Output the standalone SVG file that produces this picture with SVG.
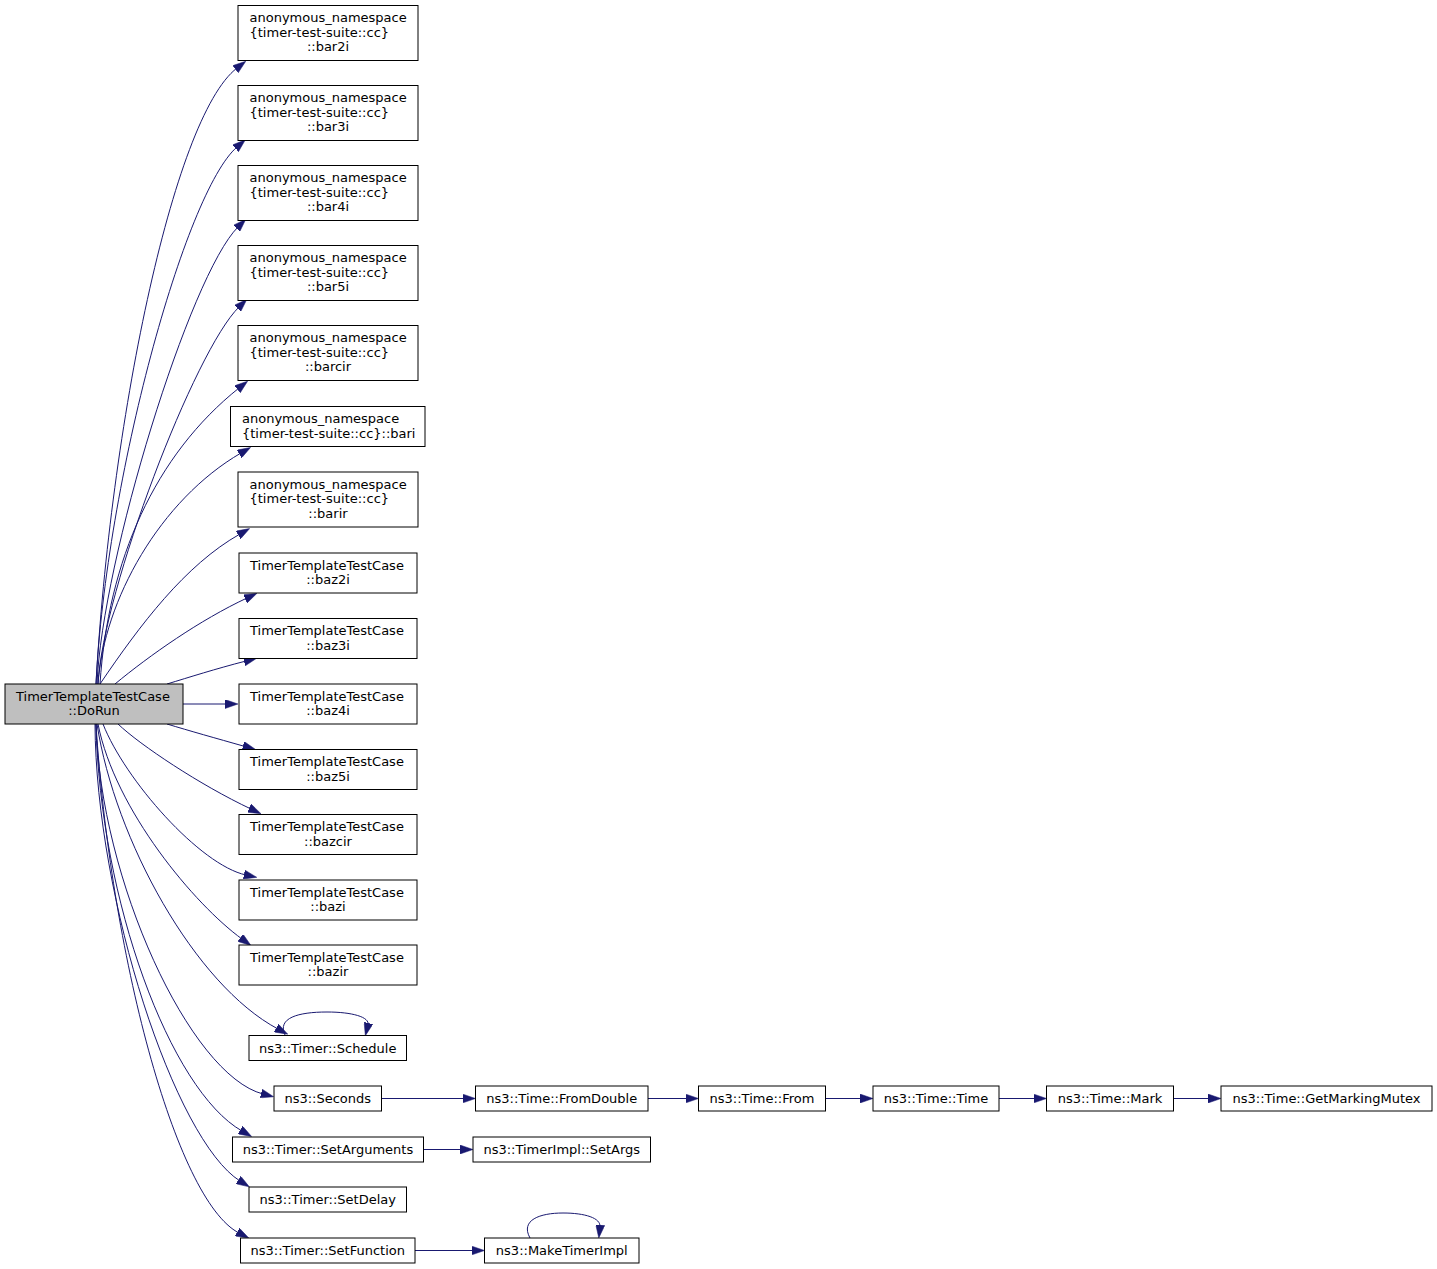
<svg xmlns="http://www.w3.org/2000/svg" width="1437" height="1269" viewBox="0 0 1437 1269">
<style>
.node rect{fill:#ffffff;stroke:#000000;stroke-width:1}
.node.main rect{fill:#bfbfbf}
.edges path{fill:none;stroke:#191970;stroke-width:1}
text{font-family:"DejaVu Sans","Liberation Sans",sans-serif;font-size:13px;fill:#000000}
.m{text-anchor:middle}
</style>
<defs>
<marker id="ah" viewBox="0 0 13 9" refX="2" refY="4.5" markerWidth="13" markerHeight="9" markerUnits="userSpaceOnUse" orient="auto">
<path d="M0,0 L13,4.5 L0,9 Z" fill="#191970" stroke="#191970" stroke-width="0.5"/>
</marker>
</defs>
<rect width="1437" height="1269" fill="#ffffff"/>
<g class="edges">
<path d="M96,684 C110,430 172,118 237,68" marker-end="url(#ah)"/>
<path d="M96,684 C106,480 185,192 237,147" marker-end="url(#ah)"/>
<path d="M97,684 C102,560 190,275 238,227" marker-end="url(#ah)"/>
<path d="M98,684 C103,590 195,350 239,307" marker-end="url(#ah)"/>
<path d="M100,684 C108,560 155,455 239,388" marker-end="url(#ah)"/>
<path d="M98,684 C104,600 160,500 241,453" marker-end="url(#ah)"/>
<path d="M100,684 C140,625 185,565 240,534" marker-end="url(#ah)"/>
<path d="M115,684 C150,655 200,620 247,598" marker-end="url(#ah)"/>
<path d="M167,684 C190,677 215,669 246,661" marker-end="url(#ah)"/>
<path d="M183,704 L227,704" marker-end="url(#ah)"/>
<path d="M167,724 C190,731 215,738 245,746.5" marker-end="url(#ah)"/>
<path d="M118,724 C140,745 200,785 251,809" marker-end="url(#ah)"/>
<path d="M103,724 C125,780 200,865 246,875" marker-end="url(#ah)"/>
<path d="M98,724 C115,810 195,905 242,939" marker-end="url(#ah)"/>
<path d="M97,724 C115,840 195,985 278,1029" marker-end="url(#ah)"/>
<path d="M96,724 C100,880 190,1075 263,1094" marker-end="url(#ah)"/>
<path d="M96,724 C100,900 170,1090 242,1131" marker-end="url(#ah)"/>
<path d="M95,724 C96,900 175,1140 240,1181" marker-end="url(#ah)"/>
<path d="M96,724 C110,950 175,1200 239,1233" marker-end="url(#ah)"/>
<path d="M285,1035 C277,1018 298,1012 327,1012 C352,1012 370,1017 368,1025" marker-end="url(#ah)"/>
<path d="M381.5,1098.5 L464.5,1098.5" marker-end="url(#ah)"/>
<path d="M648,1098.5 L687.5,1098.5" marker-end="url(#ah)"/>
<path d="M825.5,1098.5 L862,1098.5" marker-end="url(#ah)"/>
<path d="M999,1098.5 L1035.5,1098.5" marker-end="url(#ah)"/>
<path d="M1173.5,1098.5 L1210,1098.5" marker-end="url(#ah)"/>
<path d="M423.5,1149.5 L462,1149.5" marker-end="url(#ah)"/>
<path d="M415,1250.5 L473.5,1250.5" marker-end="url(#ah)"/>
<path d="M530,1238 C520,1220 540,1213 563,1213 C585,1213 601,1218 600,1227" marker-end="url(#ah)"/>
</g>
<g id="node_main" class="node main"><rect x="5" y="684" width="178" height="40"/><text x="16" y="700.75">TimerTemplateTestCase</text><text class="m" x="94" y="715.25">::DoRun</text></g>
<g id="node_bar2i" class="node"><rect x="238" y="5.5" width="180" height="55"/><text x="249.5" y="22">anonymous_namespace</text><text x="249.5" y="36.5">{timer-test-suite::cc}</text><text class="m" x="328" y="51">::bar2i</text></g>
<g id="node_bar3i" class="node"><rect x="238" y="85.5" width="180" height="55"/><text x="249.5" y="102">anonymous_namespace</text><text x="249.5" y="116.5">{timer-test-suite::cc}</text><text class="m" x="328" y="131">::bar3i</text></g>
<g id="node_bar4i" class="node"><rect x="238" y="165.5" width="180" height="55"/><text x="249.5" y="182">anonymous_namespace</text><text x="249.5" y="196.5">{timer-test-suite::cc}</text><text class="m" x="328" y="211">::bar4i</text></g>
<g id="node_bar5i" class="node"><rect x="238" y="245.5" width="180" height="55"/><text x="249.5" y="262">anonymous_namespace</text><text x="249.5" y="276.5">{timer-test-suite::cc}</text><text class="m" x="328" y="291">::bar5i</text></g>
<g id="node_barcir" class="node"><rect x="238" y="325.5" width="180" height="55"/><text x="249.5" y="342">anonymous_namespace</text><text x="249.5" y="356.5">{timer-test-suite::cc}</text><text class="m" x="328" y="371">::barcir</text></g>
<g id="node_bari" class="node"><rect x="230.5" y="406.5" width="194.5" height="40"/><text x="242" y="423.25">anonymous_namespace</text><text x="242" y="437.75">{timer-test-suite::cc}::bari</text></g>
<g id="node_barir" class="node"><rect x="238" y="472" width="180" height="55"/><text x="249.5" y="488.5">anonymous_namespace</text><text x="249.5" y="503">{timer-test-suite::cc}</text><text class="m" x="328" y="517.5">::barir</text></g>
<g id="node_baz2i" class="node"><rect x="239" y="553" width="178" height="40"/><text x="250" y="569.75">TimerTemplateTestCase</text><text class="m" x="328" y="584.25">::baz2i</text></g>
<g id="node_baz3i" class="node"><rect x="239" y="618.5" width="178" height="40"/><text x="250" y="635.25">TimerTemplateTestCase</text><text class="m" x="328" y="649.75">::baz3i</text></g>
<g id="node_baz4i" class="node"><rect x="239" y="684" width="178" height="40"/><text x="250" y="700.75">TimerTemplateTestCase</text><text class="m" x="328" y="715.25">::baz4i</text></g>
<g id="node_baz5i" class="node"><rect x="239" y="749.5" width="178" height="40"/><text x="250" y="766.25">TimerTemplateTestCase</text><text class="m" x="328" y="780.75">::baz5i</text></g>
<g id="node_bazcir" class="node"><rect x="239" y="814.5" width="178" height="40"/><text x="250" y="831.25">TimerTemplateTestCase</text><text class="m" x="328" y="845.75">::bazcir</text></g>
<g id="node_bazi" class="node"><rect x="239" y="880" width="178" height="40"/><text x="250" y="896.75">TimerTemplateTestCase</text><text class="m" x="328" y="911.25">::bazi</text></g>
<g id="node_bazir" class="node"><rect x="239" y="945" width="178" height="40"/><text x="250" y="961.75">TimerTemplateTestCase</text><text class="m" x="328" y="976.25">::bazir</text></g>
<g id="node_schedule" class="node"><rect x="249" y="1035.5" width="157.5" height="25"/><text class="m" x="327.75" y="1052.5">ns3::Timer::Schedule</text></g>
<g id="node_seconds" class="node"><rect x="274" y="1086" width="107.5" height="25"/><text class="m" x="327.75" y="1103">ns3::Seconds</text></g>
<g id="node_fromdouble" class="node"><rect x="475.5" y="1086" width="172.5" height="25"/><text class="m" x="561.75" y="1103">ns3::Time::FromDouble</text></g>
<g id="node_from" class="node"><rect x="698.5" y="1086" width="127" height="25"/><text class="m" x="762" y="1103">ns3::Time::From</text></g>
<g id="node_time" class="node"><rect x="873" y="1086" width="126" height="25"/><text class="m" x="936" y="1103">ns3::Time::Time</text></g>
<g id="node_mark" class="node"><rect x="1046.5" y="1086" width="127" height="25"/><text class="m" x="1110" y="1103">ns3::Time::Mark</text></g>
<g id="node_getmarkingmutex" class="node"><rect x="1221" y="1086" width="211" height="25"/><text class="m" x="1326.5" y="1103">ns3::Time::GetMarkingMutex</text></g>
<g id="node_setarguments" class="node"><rect x="232.5" y="1137" width="191" height="25"/><text class="m" x="328" y="1154">ns3::Timer::SetArguments</text></g>
<g id="node_setargs" class="node"><rect x="473" y="1137" width="177.5" height="25"/><text class="m" x="561.75" y="1154">ns3::TimerImpl::SetArgs</text></g>
<g id="node_setdelay" class="node"><rect x="249" y="1187" width="157.5" height="25"/><text class="m" x="327.75" y="1204">ns3::Timer::SetDelay</text></g>
<g id="node_setfunction" class="node"><rect x="240.5" y="1238" width="174.5" height="25"/><text class="m" x="327.75" y="1255">ns3::Timer::SetFunction</text></g>
<g id="node_maketimerimpl" class="node"><rect x="484.5" y="1238" width="154.5" height="25"/><text class="m" x="561.75" y="1255">ns3::MakeTimerImpl</text></g>
</svg>
